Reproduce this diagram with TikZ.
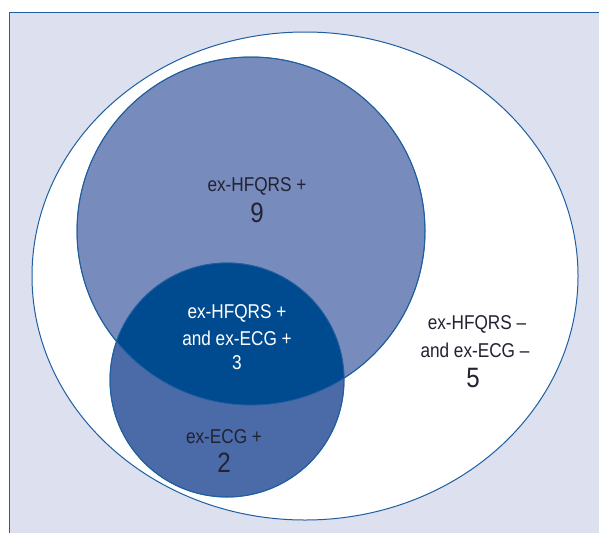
\documentclass[tikz,border=0pt]{standalone}
\usepackage{fontspec}
\setmainfont{Liberation Sans}[FakeStretch=0.86]
\definecolor{bg}{HTML}{DDE0EF}
\definecolor{edge}{HTML}{1F5FA0}
\definecolor{ca}{HTML}{788BBD}
\definecolor{cb}{HTML}{4A6AA8}
\definecolor{cab}{HTML}{004A8F}
\definecolor{txt}{HTML}{222233}
\begin{document}
\begin{tikzpicture}[x=1pt,y=-1pt,
  lbl/.style={font=\fontsize{20}{24}\selectfont, text=txt, inner sep=0pt},
  num/.style={font=\fontsize{28}{32}\selectfont, text=txt, inner sep=0pt}]
\useasboundingbox (0,0) rectangle (599,533);
\fill[white] (0,0) rectangle (599,533);
\fill[bg] (9,12) rectangle (599,533);
\draw[edge, line width=1pt] (9,533) -- (9,12) -- (599,12);
% universe ellipse
\draw[edge, line width=1pt, fill=white] (305,276) ellipse [x radius=273, y radius=244];
% circles
\draw[edge, line width=1pt, fill=ca] (251,231) circle [radius=174];
\draw[edge, line width=1pt, fill=cb] (227,380) circle [radius=117];
\begin{scope}
  \clip (251,231) circle [radius=174];
  \fill[cab] (227,380) circle [radius=117];
\end{scope}
\draw[edge, line width=0.8pt] (251,231) circle [radius=174];
\draw[edge, line width=0.8pt] (227,380) circle [radius=117];
% labels
\node[lbl] (a1) at (257,186) {ex-HFQRS +};
\node[num] (a2) at (257,213) {9};
\node[lbl, text=white] (ab1) at (237,313) {ex-HFQRS +};
\node[lbl, text=white] (ab2) at (237,338) {and ex-ECG +};
\node[lbl, text=white] (ab3) at (237,363) {3};
\node[lbl] (b1) at (224,437) {ex-ECG +};
\node[num] (b2) at (224,463) {2};
\node[lbl] (n1) at (477,324) {ex-HFQRS –};
\node[lbl] (n2) at (475,350) {and ex-ECG –};
\node[num] (n3) at (473,378) {5};
\end{tikzpicture}
\end{document}
